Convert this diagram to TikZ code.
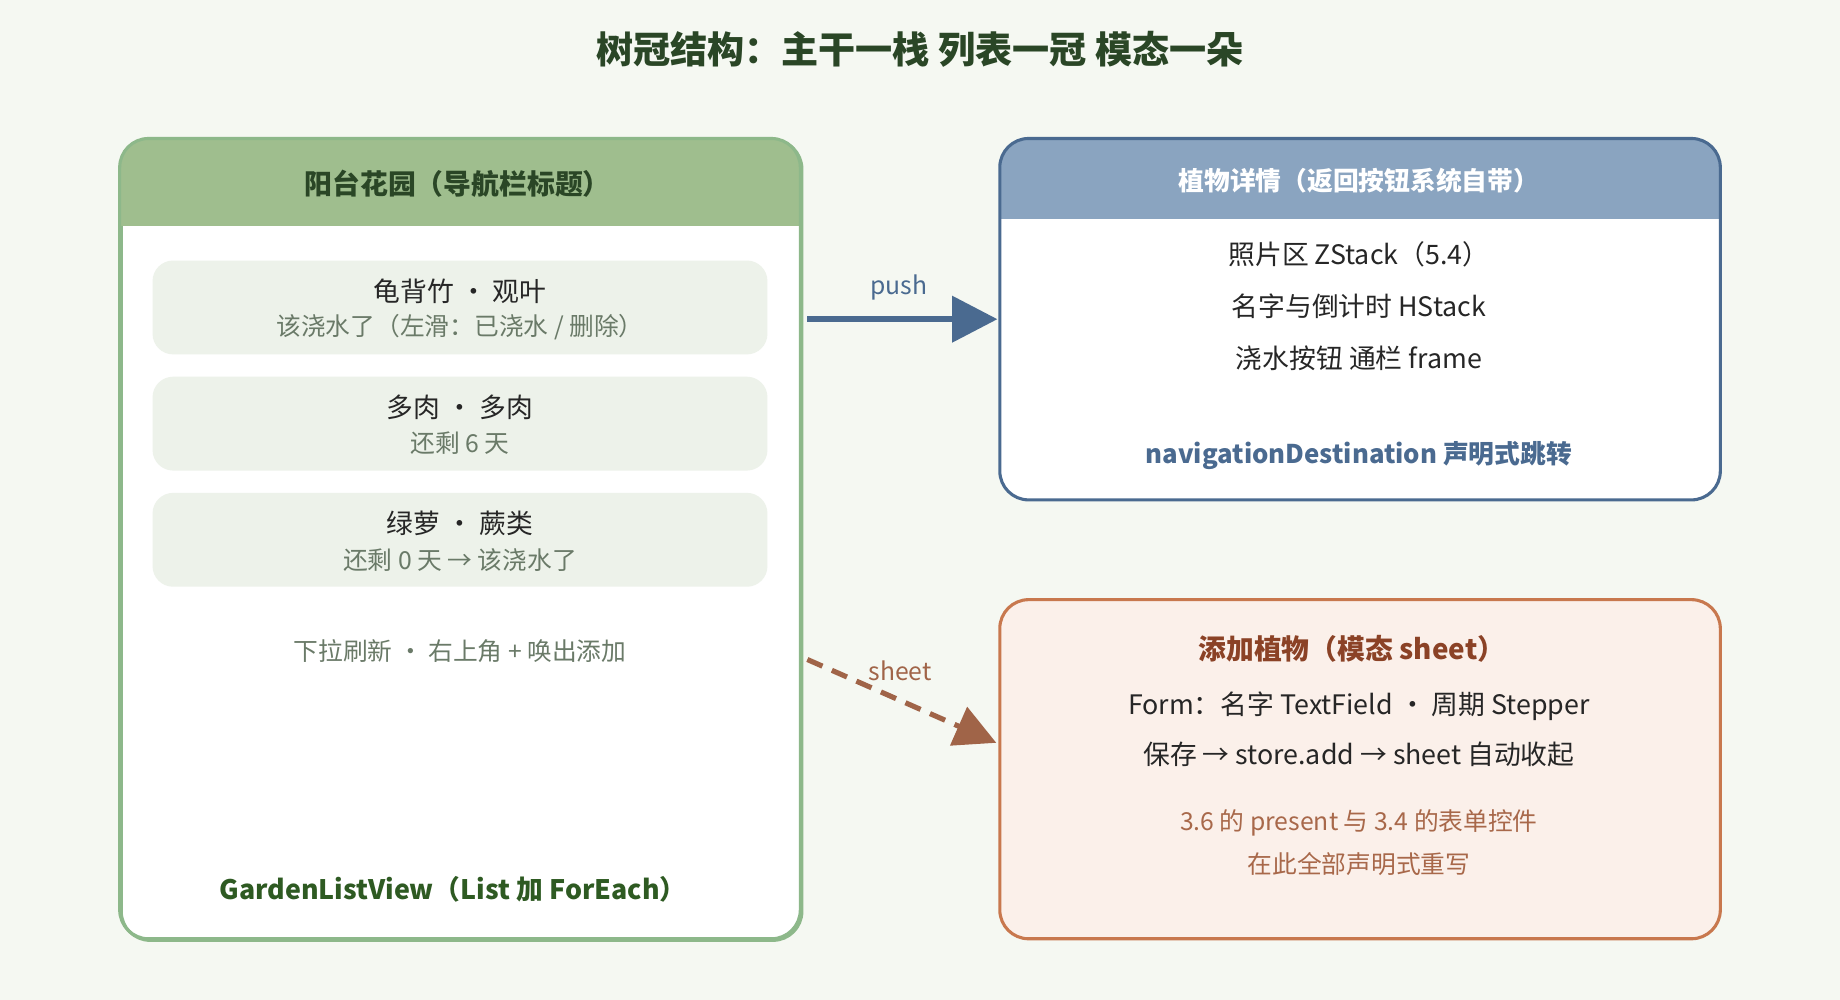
\documentclass[tikz,border=0pt]{standalone}
\usepackage{fontspec}
\setmainfont{Noto Sans CJK SC}
\usetikzlibrary{arrows.meta}
\definecolor{bg}{HTML}{F5F8F2}
\definecolor{gborder}{HTML}{8DB88A}
\definecolor{ghead}{HTML}{9FBE8E}
\definecolor{gtext}{HTML}{2A4626}
\definecolor{gfoot}{HTML}{2E5A22}
\definecolor{item}{HTML}{EDF2EA}
\definecolor{itemsub}{HTML}{6A7A68}
\definecolor{bborder}{HTML}{4A6A90}
\definecolor{bhead}{HTML}{8AA4C0}
\definecolor{btext}{HTML}{4A6A90}
\definecolor{ofill}{HTML}{FBF0EA}
\definecolor{oborder}{HTML}{C8784E}
\definecolor{otext}{HTML}{8B4226}
\definecolor{osub}{HTML}{A8684A}
\definecolor{sheetc}{HTML}{A06448}
\begin{document}
\begin{tikzpicture}[x=0.02cm,y=-0.02cm,
  body/.style={font=\fontsize{13}{15}\selectfont, text=black!85},
  sub/.style={font=\fontsize{12}{14}\selectfont, text=itemsub},
  itembox/.style={fill=item, rounded corners=10pt},
]
\fill[bg] (0,0) rectangle (1568,852);
\useasboundingbox (0,0) rectangle (1568,852);
\node[font=\fontsize{18}{20}\selectfont\bfseries, text=gtext] (title) at (784,42) {树冠结构：主干一栈 列表一冠 模态一朵};

% left box
\node[draw=gborder, line width=1.5pt, fill=white, rounded corners=14pt, minimum width=580*0.02cm, minimum height=682*0.02cm, anchor=north west] (left) at (102,118) {};
\begin{scope}
\clip[rounded corners=14pt] (102,118) rectangle (682,800);
\fill[ghead] (102,118) rectangle (682,193);
\end{scope}
\draw[gborder, line width=1.5pt, rounded corners=14pt] (102,118) rectangle (682,800);
\node[font=\fontsize{13.5}{15}\selectfont\bfseries, text=gtext] (lh) at (390,157) {阳台花园（导航栏标题）};
\fill[itembox] (130,222) rectangle (654,302);
\fill[itembox] (130,321) rectangle (654,401);
\fill[itembox] (130,420) rectangle (654,500);
\node[body] (i1a) at (392,248) {龟背竹 · 观叶};
\node[sub] (i1b) at (392,279) {该浇水了（左滑：已浇水 / 删除）};
\node[body] (i2a) at (392,347) {多肉 · 多肉};
\node[sub] (i2b) at (392,378) {还剩 6 天};
\node[body] (i3a) at (392,446) {绿萝 · 蕨类};
\node[sub] (i3b) at (392,477) {还剩 0 天 → 该浇水了};
\node[sub] (hint) at (392,555) {下拉刷新 · 右上角 + 唤出添加};
\node[font=\fontsize{13}{15}\selectfont\bfseries, text=gfoot] (lf) at (386,758) {GardenListView（List 加 ForEach）};

% blue box
\begin{scope}
\clip[rounded corners=14pt] (852,118) rectangle (1466,426);
\fill[white] (852,118) rectangle (1466,426);
\fill[bhead] (852,118) rectangle (1466,187);
\end{scope}
\draw[bborder, line width=1.5pt, rounded corners=14pt] (852,118) rectangle (1466,426);
\node[font=\fontsize{12.5}{15}\selectfont\bfseries, text=white] (rh) at (1158,154) {植物详情（返回按钮系统自带）};
\node[body] (r1) at (1158,217) {照片区 ZStack（5.4）};
\node[body] (r2) at (1158,261) {名字与倒计时 HStack};
\node[body] (r3) at (1158,305) {浇水按钮 通栏 frame};
\node[font=\fontsize{12.5}{15}\selectfont\bfseries, text=btext] (rf) at (1158,388) {navigationDestination 声明式跳转};

% orange box
\draw[oborder, fill=ofill, line width=1.5pt, rounded corners=14pt] (852,511) rectangle (1466,800);
\node[font=\fontsize{13.5}{15}\selectfont\bfseries, text=otext] (oh) at (1152,553) {添加植物（模态 sheet）};
\node[body] (o1) at (1158,602) {Form：名字 TextField · 周期 Stepper};
\node[body] (o2) at (1158,643) {保存 → store.add → sheet 自动收起};
\node[font=\fontsize{12}{14}\selectfont, text=osub] (o3) at (1158,701) {3.6 的 present 与 3.4 的表单控件};
\node[font=\fontsize{12}{14}\selectfont, text=osub] (o4) at (1158,736) {在此全部声明式重写};

% arrows
\coordinate (pa) at (688,272);
\coordinate (pb) at (850,272);
\draw[bborder, line width=3pt, -{Triangle[length=22pt,width=22pt]}] (pa) -- (pb);
\node[font=\fontsize{12}{14}\selectfont, text=btext] (pl) at (766,245) {push};
\coordinate (sa) at (688,562);
\coordinate (sb) at (849,633);
\draw[sheetc, line width=2.5pt, dash pattern=on 8pt off 5pt, -{Triangle[length=20pt,width=20pt]}] (sa) -- (sb);
\node[font=\fontsize{12}{14}\selectfont, text=sheetc] (sl) at (767,572) {sheet};
\end{tikzpicture}
\end{document}
